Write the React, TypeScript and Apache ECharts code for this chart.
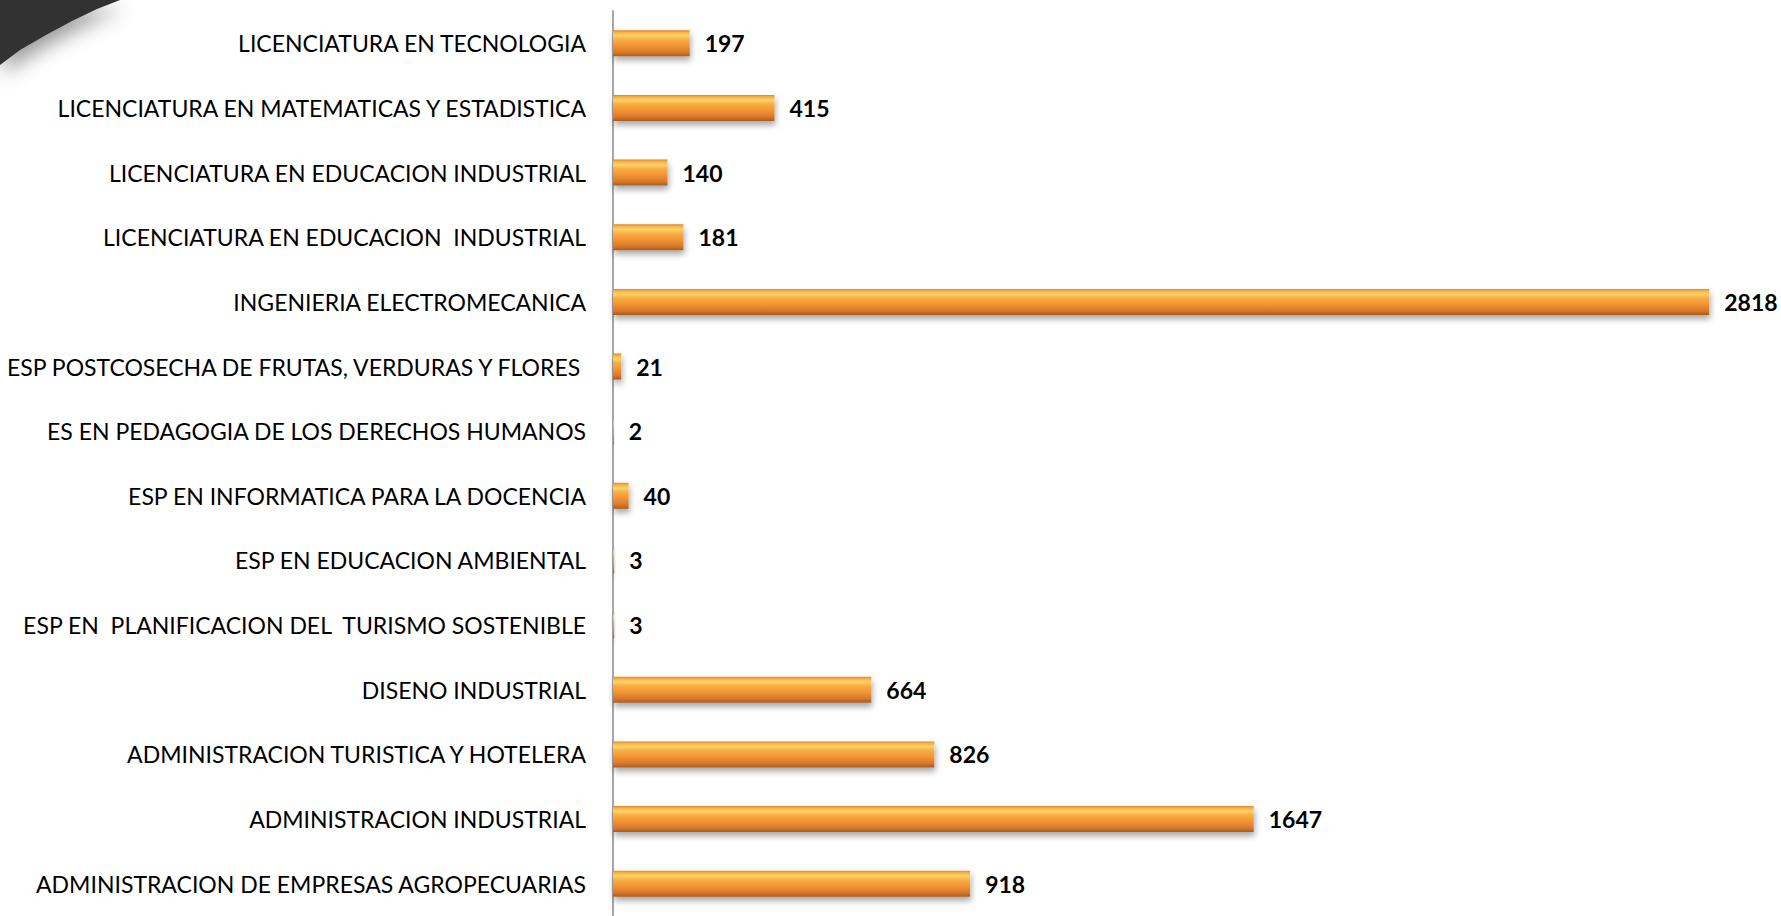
import React, { useEffect, useRef } from "react";
import * as echarts from "echarts";

const categories = [
  "LICENCIATURA EN TECNOLOGIA",
  "LICENCIATURA EN MATEMATICAS Y ESTADISTICA",
  "LICENCIATURA EN EDUCACION INDUSTRIAL",
  "LICENCIATURA EN EDUCACION  INDUSTRIAL",
  "INGENIERIA ELECTROMECANICA",
  "ESP POSTCOSECHA DE FRUTAS, VERDURAS Y FLORES ",
  "ES EN PEDAGOGIA DE LOS DERECHOS HUMANOS",
  "ESP EN INFORMATICA PARA LA DOCENCIA",
  "ESP EN EDUCACION AMBIENTAL",
  "ESP EN  PLANIFICACION DEL  TURISMO SOSTENIBLE",
  "DISENO INDUSTRIAL",
  "ADMINISTRACION TURISTICA Y HOTELERA",
  "ADMINISTRACION INDUSTRIAL",
  "ADMINISTRACION DE EMPRESAS AGROPECUARIAS",
];

const values = [197, 415, 140, 181, 2818, 21, 2, 40, 3, 3, 664, 826, 1647, 918];

export default function App() {
  const ref = useRef<HTMLDivElement>(null);
  useEffect(() => {
    if (!ref.current) return;
    const chart = echarts.init(ref.current, null, { renderer: "svg" });
    const barGradient = new echarts.graphic.LinearGradient(0, 0, 0, 1, [
      { offset: 0, color: "#e0842a" },
      { offset: 0.08, color: "#f7b24a" },
      { offset: 0.2, color: "#fdd466" },
      { offset: 0.35, color: "#f9ad45" },
      { offset: 0.6, color: "#f29433" },
      { offset: 0.85, color: "#d8772a" },
      { offset: 1, color: "#a55d1e" },
    ]);
    chart.setOption({
      animation: false,
      backgroundColor: "#ffffff",
      graphic: [
        {
          type: "polygon",
          z: 10,
          shape: {
            points: [
              [0, 0],
              [120, 0],
              [97, 9],
              [72, 21],
              [46, 35],
              [20, 50],
              [0, 65],
            ],
          },
          style: {
            fill: "#333333",
            shadowBlur: 20,
            shadowColor: "rgba(0,0,0,0.4)",
            shadowOffsetX: 4,
            shadowOffsetY: 9,
          },
        },
      ],
      grid: { left: 611, top: 11, width: 1169, height: 908, containLabel: false },
      xAxis: {
        type: "value",
        min: 0,
        max: 3000,
        show: false,
        splitLine: { show: false },
      },
      yAxis: {
        type: "category",
        data: categories,
        inverse: true,
        axisLine: { show: true, lineStyle: { color: "#a6a6a6", width: 2 } },
        axisTick: { show: false },
        axisLabel: {
          color: "#000000",
          fontFamily: "Lato, 'Open Sans', sans-serif",
          fontSize: 23,
          margin: 27,
        },
      },
      series: [
        {
          type: "bar",
          data: values,
          barWidth: 26,
          itemStyle: {
            color: barGradient,
            shadowBlur: 6,
            shadowColor: "rgba(0,0,0,0.35)",
            shadowOffsetY: 4,
            shadowOffsetX: 1,
          },
          label: {
            show: true,
            position: "right",
            distance: 15,
            color: "#000000",
            fontWeight: "bold",
            fontFamily: "Lato, 'Open Sans', sans-serif",
            fontSize: 23,
          },
        },
      ],
    });
    return () => chart.dispose();
  }, []);
  return (
    <div
      ref={ref}
      style={{ position: "fixed", left: 0, top: 0, width: 1781, height: 916 }}
    />
  );
}
